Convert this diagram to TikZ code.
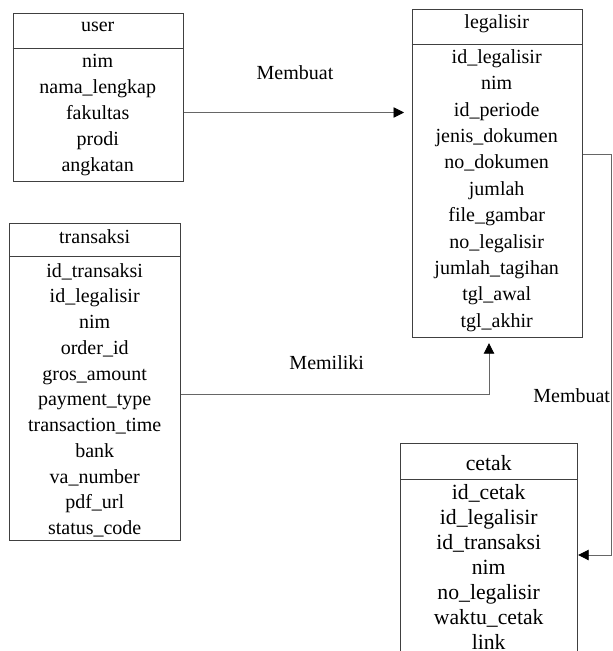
\documentclass[tikz,border=0pt]{standalone}
\usepackage{fontspec}
\setmainfont{LiberationSerif}[Extension=.ttf, UprightFont=*-Regular, BoldFont=*-Bold]
\usetikzlibrary{arrows.meta}
\begin{document}
\begin{tikzpicture}[x=1pt,y=-1pt,
  tbl/.style={draw=black!75, line width=0.9pt, anchor=north west, inner sep=0pt},
  sep/.style={draw=black!75, line width=0.9pt},
  txt/.style={anchor=base, inner sep=0pt, font=\fontsize{20}{24}\selectfont},
  bigtxt/.style={anchor=base, inner sep=0pt, font=\fontsize{21.7}{26}\selectfont},
  conn/.style={draw=black!60, line width=0.9pt, -{Triangle[length=10.5pt,width=10.5pt,color=black]}}
]
\useasboundingbox (0,0) rectangle (613,651);
% boxes
\node[tbl, minimum width=170pt, minimum height=167.7pt] (user) at (12.7,13.3) {};
\node[tbl, minimum width=170pt, minimum height=328pt] (legalisir) at (411.7,9.3) {};
\node[tbl, minimum width=170.7pt, minimum height=317.3pt] (transaksi) at (9.3,222.7) {};
\node[tbl, minimum width=177.3pt, minimum height=220pt] (cetak) at (400,442.7) {};
% header separators
\draw[sep] (user.west |- 0,48.3) -- (user.east |- 0,48.3);
\draw[sep] (legalisir.west |- 0,44) -- (legalisir.east |- 0,44);
\draw[sep] (transaksi.west |- 0,256.7) -- (transaksi.east |- 0,256.7);
\draw[sep] (cetak.west |- 0,479.3) -- (cetak.east |- 0,479.3);
% headers
\node[txt] (userh) at (97.7,31.5) {user};
\node[txt] (legh) at (496.7,28.5) {legalisir};
\node[txt] (trh) at (94.7,243.5) {transaksi};
\node[bigtxt] (ceh) at (488.7,470) {cetak};
% attributes
\foreach \t [count=\i from 0] in {nim,nama\_lengkap,fakultas,prodi,angkatan}
  \node[txt] (u\i) at (97.7,67.5+26*\i) {\t};
\foreach \t [count=\i from 0] in {id\_legalisir,nim,id\_periode,jenis\_dokumen,no\_dokumen,jumlah,file\_gambar,no\_legalisir,jumlah\_tagihan,tgl\_awal,tgl\_akhir}
  \node[txt] (l\i) at (496.7,63.2+26.4*\i) {\t};
\foreach \t [count=\i from 0] in {id\_transaksi,id\_legalisir,nim,order\_id,gros\_amount,payment\_type,transaction\_time,bank,va\_number,pdf\_url,status\_code}
  \node[txt] (t\i) at (94.7,277+25.75*\i) {\t};
\foreach \t [count=\i from 0] in {id\_cetak,id\_legalisir,id\_transaksi,nim,no\_legalisir,waktu\_cetak,link}
  \node[bigtxt] (c\i) at (488.7,499.8+25*\i) {\t};
% connectors
\draw[conn] (user.east |- 0,112.5) -- ([xshift=-7.7pt]legalisir.west |- 0,112.5);
\draw[conn] (transaksi.east |- 0,394.3) -| ([yshift=-5pt]legalisir.south -| 489,0);
\draw[conn] (legalisir.east |- 0,154) -- (611.7,154) |- (cetak.east |- 0,555);
% labels
\node[txt] (lbl1) at (295,79.5) {Membuat};
\node[txt] (lbl2) at (326.7,369) {Memiliki};
\node[txt] (lbl3) at (571.7,402) {Membuat};
\end{tikzpicture}
\end{document}
